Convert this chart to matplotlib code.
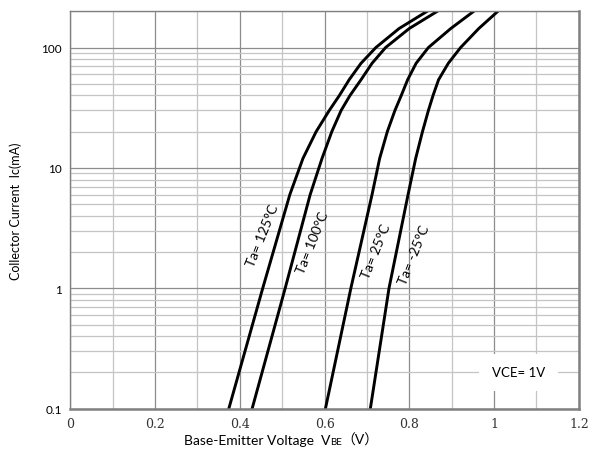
import matplotlib.pyplot as plt
from matplotlib.ticker import LogLocator, MultipleLocator, NullFormatter
from matplotlib.offsetbox import TextArea, HPacker, AnchoredOffsetbox

plt.rcParams['font.family'] = ['Lato', 'Noto Sans CJK SC', 'DejaVu Sans']

# collector current (mA) where each curve was read
ic = [0.1, 1, 6, 12, 20, 30, 40, 54, 74, 100, 144, 200]

# base-emitter voltage (V) for each temperature
vbe_125 = [0.374, 0.454, 0.518, 0.549, 0.580, 0.611, 0.635, 0.658, 0.686, 0.721, 0.776, 0.842]
vbe_100 = [0.429, 0.507, 0.566, 0.594, 0.617, 0.639, 0.660, 0.686, 0.712, 0.744, 0.800, 0.866]
vbe_25 = [0.602, 0.662, 0.712, 0.730, 0.748, 0.766, 0.781, 0.796, 0.816, 0.845, 0.898, 0.952]
vbe_m25 = [0.708, 0.752, 0.797, 0.815, 0.831, 0.845, 0.856, 0.869, 0.892, 0.921, 0.964, 1.009]

labels = ["Ta= 125°C", "Ta= 100°C", "Ta= 25°C", "Ta= -25°C"]
# label anchor (V, mA)
label_x = [0.453, 0.571, 0.722, 0.811]
label_y = [2.77, 2.43, 2.04, 1.93]

x_ticks = [0, 0.2, 0.4, 0.6, 0.8, 1.0, 1.2]
x_tick_labels = ["0", "0.2", "0.4", "0.6", "0.8", "1", "1.2"]
y_ticks = [0.1, 1, 10, 100]
y_tick_labels = ["0.1", "1", "10", "100"]

fig = plt.figure(figsize=(5.93, 4.52), dpi=100)
ax = fig.add_axes([0.1186, 0.0936, 0.8575, 0.8792])

ax.set_yscale('log')
ax.set_xlim(0, 1.2)
ax.set_ylim(0.1, 200)

# grid
ax.xaxis.set_minor_locator(MultipleLocator(0.1))
ax.yaxis.set_minor_locator(LogLocator(base=10, subs=range(2, 10)))
ax.yaxis.set_minor_formatter(NullFormatter())
ax.grid(which='major', color='#8c8c8c', linewidth=0.9)
ax.grid(which='minor', color='#c4c4c4', linewidth=0.9)
ax.set_axisbelow(True)

for v in [vbe_125, vbe_100, vbe_25, vbe_m25]:
    ax.plot(v, ic, color='black', linewidth=2.1, solid_joinstyle='round')

for t, lx, ly in zip(labels, label_x, label_y):
    ax.text(lx, ly, t, rotation=68, ha='center', va='center', fontsize=10)

ax.text(1.058, 0.2, "VCE= 1V", ha='center', va='center', fontsize=9.5,
        bbox=dict(facecolor='white', edgecolor='none', pad=9))

ax.set_xticks(x_ticks)
ax.set_xticklabels(x_tick_labels, fontsize=9)
for lbl in ax.get_xticklabels():
    lbl.set_family('DejaVu Serif')
    lbl.set_color('#333333')
ax.set_yticks(y_ticks)
ax.set_yticklabels(y_tick_labels, fontsize=8.5)
ax.tick_params(axis='x', which='both', length=0, pad=6)
ax.tick_params(axis='y', which='both', length=0, pad=6)

for s in ax.spines.values():
    s.set_color('#808080')
    s.set_linewidth(1.0)
ax.spines['bottom'].set_linewidth(1.8)
ax.spines['right'].set_linewidth(1.8)

# x label built from pieces so "BE" is small and the wide brackets keep their font
parts = [
    TextArea("Base-Emitter Voltage  V", textprops=dict(fontsize=10)),
    TextArea("BE", textprops=dict(fontsize=7)),
    TextArea("（V）", textprops=dict(fontsize=10)),
]
xlab = HPacker(children=parts, align="baseline", pad=0, sep=0)
box = AnchoredOffsetbox(loc='center', child=xlab, pad=0, borderpad=0, frameon=False,
                        bbox_to_anchor=(0.415, -0.076), bbox_transform=ax.transAxes)
ax.add_artist(box)

ax.set_ylabel("Collector Current  Ic(mA)", fontsize=9, labelpad=14)

fig.savefig("out.png", dpi=100)
